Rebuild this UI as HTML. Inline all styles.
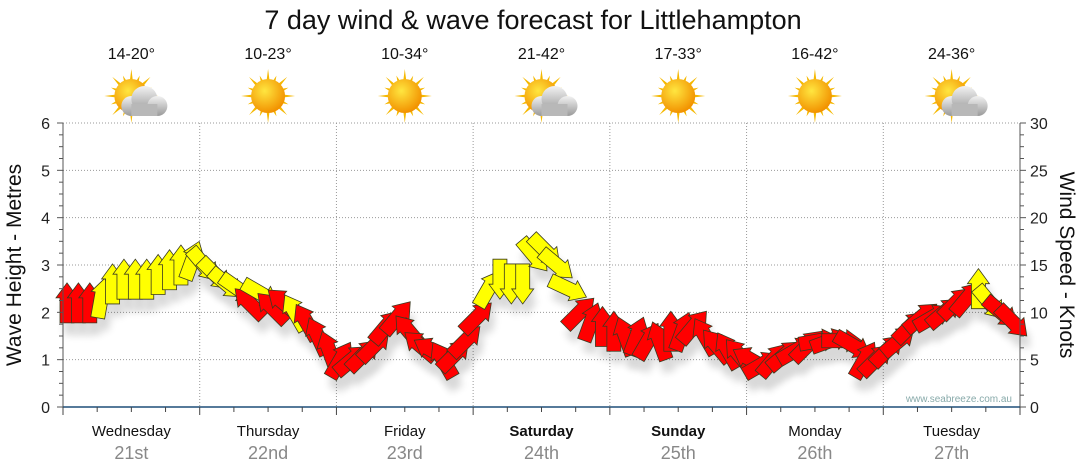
<!DOCTYPE html>
<html><head><meta charset="utf-8"><style>
body{margin:0;background:#fff;width:1080px;height:475px;overflow:hidden;font-family:"Liberation Sans",sans-serif}
svg{display:block}
</style></head><body>
<svg id="c" width="1080" height="475" xmlns="http://www.w3.org/2000/svg">
<defs>
<radialGradient id="sun" cx="40%" cy="35%" r="65%"><stop offset="0" stop-color="#ffe640"/><stop offset="1" stop-color="#f29200"/></radialGradient>
<linearGradient id="cloud" x1="0" y1="0" x2="0" y2="1"><stop offset="0" stop-color="#f2f2f2"/><stop offset="1" stop-color="#9a9a9a"/></linearGradient>
<filter id="sh" x="-50%" y="-50%" width="200%" height="200%"><feGaussianBlur stdDeviation="4"/></filter>
</defs>
<text x="533" y="29" text-anchor="middle" font-size="27" fill="#111">7 day wind &amp; wave forecast for Littlehampton</text>
<g id="grid"></g><g id="shadows" opacity="0.15"></g><g id="marks"></g><g id="axes"></g><g id="topg"></g>
<text x="1012" y="402" text-anchor="end" font-size="10" fill="#8aa">www.seabreeze.com.au</text>
<text transform="translate(21,265) rotate(-90)" text-anchor="middle" font-size="21" fill="#111">Wave Height - Metres</text>
<text transform="translate(1060,265) rotate(90)" text-anchor="middle" font-size="21" fill="#111">Wind Speed - Knots</text>
</svg>
<script>
const days=["Wednesday","Thursday","Friday","Saturday","Sunday","Monday","Tuesday"];
const dates=["21st","22nd","23rd","24th","25th","26th","27th"];
const bold=[false,false,false,true,true,false,false];
const temps=["14-20°","10-23°","10-34°","21-42°","17-33°","16-42°","24-36°"];
const cloudy=[true,false,false,true,false,false,true];
const leftTicks=[0,1,2,3,4,5,6];
const rightTicks=[0,5,10,15,20,25,30];
const heights=[2.2,2.2,2.2,2.3,2.6,2.7,2.7,2.7,2.8,2.9,3.0,3.1,
3.0,2.8,2.6,2.5,2.2,2.4,2.1,2.2,2.0,1.8,1.5,1.2,
1.0,1.0,1.1,1.3,1.7,1.9,1.6,1.3,1.2,1.0,1.1,1.4,
1.9,2.5,2.7,2.6,2.6,3.2,3.3,3.0,2.5,2.0,1.8,1.7,
1.6,1.5,1.5,1.4,1.4,1.6,1.6,1.7,1.5,1.3,1.2,1.1,
1.0,0.9,1.0,1.1,1.2,1.3,1.4,1.4,1.4,1.3,1.0,1.0,
1.2,1.4,1.7,1.9,1.9,2.0,2.2,2.3,2.5,2.2,2.0,1.8];
const directions=[0,0,0,10,0,0,0,0,0,0,0,20,
140,135,130,125,315,120,315,310,330,330,335,340,
30,50,45,45,40,40,320,310,300,330,45,45,
45,30,180,180,180,140,135,130,115,45,20,0,
0,340,20,30,340,0,20,40,330,320,330,320,
300,60,40,50,60,45,80,70,90,120,30,45,
45,50,45,50,60,50,45,40,0,140,130,135];
const colours=["R","R","R","Y","Y","Y","Y","Y","Y","Y","Y","Y",
"Y","Y","Y","Y","R","Y","R","R","Y","R","R","R",
"R","R","R","R","R","R","R","R","R","R","R","R",
"R","Y","Y","Y","Y","Y","Y","Y","Y","R","R","R",
"R","R","R","R","R","R","R","R","R","R","R","R",
"R","R","R","R","R","R","R","R","R","R","R","R",
"R","R","R","R","R","R","R","R","Y","Y","R","R"];
const NS="http://www.w3.org/2000/svg";
const X0=63,X1=1020,Y0=407,Y1=123;
const dayW=(X1-X0)/7;
const xs=i=>X0+i*dayW/12+4;
const ys=v=>Y0-(v/6)*(Y0-Y1);
function mk(p,tag,at){const e=document.createElementNS(NS,tag);for(const k in at)e.setAttribute(k,at[k]);p.appendChild(e);return e;}
const grid=document.getElementById('grid'),axes=document.getElementById('axes'),marks=document.getElementById('marks'),shadows=document.getElementById('shadows'),topG=document.getElementById('topg');
leftTicks.forEach(t=>{if(t>0){const g=mk(grid,'line',{x1:X0,x2:X1,y1:ys(t),y2:ys(t),stroke:'#999','stroke-dasharray':'1,2'});

}
const l=mk(axes,'text',{x:50,y:ys(t)+6,'text-anchor':'end','font-size':16,fill:'#222'});l.textContent=t;

});
rightTicks.forEach((t,i)=>{const l=mk(axes,'text',{x:1030,y:ys(i)+6,'font-size':16,fill:'#222'});l.textContent=t;

});
for(let v=0;v<=6.001;v+=0.25){const L=(Math.abs(v-Math.round(v))<0.01)?6:4;
mk(axes,'line',{x1:X0-L,x2:X0,y1:ys(v),y2:ys(v),stroke:'#555'});mk(axes,'line',{x1:X1,x2:X1+L,y1:ys(v),y2:ys(v),stroke:'#555'});}
mk(axes,'line',{x1:X0,x2:X0,y1:Y1,y2:Y0,stroke:'#555'});mk(axes,'line',{x1:X1,x2:X1,y1:Y1,y2:Y0,stroke:'#555'});
mk(axes,'line',{x1:X0,x2:X1,y1:Y0,y2:Y0,stroke:'#1f4e79','stroke-width':1.5});
for(let q=0;q<=28;q++){const x=X0+q*dayW/4;mk(axes,'line',{x1:x,x2:x,y1:Y0,y2:Y0+(q%4==0?8:5),stroke:'#444'});}
days.forEach((d,i)=>{const cx=X0+dayW*(i+0.5);
if(i>0){const g=mk(grid,'line',{x1:X0+dayW*i,x2:X0+dayW*i,y1:Y1,y2:Y0,stroke:'#999','stroke-dasharray':'1,2'});

}
const t=mk(axes,'text',{x:cx,y:436,'text-anchor':'middle','font-size':15,fill:'#111','font-weight':bold[i]?'bold':'normal'});t.textContent=d;


const dt=mk(axes,'text',{x:cx,y:459,'text-anchor':'middle','font-size':18,fill:'#888'});dt.textContent=dates[i];


const tp=mk(topG,'text',{x:cx,y:59,'text-anchor':'middle','font-size':16,fill:'#111'});tp.textContent=temps[i];


const ic=mk(topG,'g',{transform:`translate(${cx},96)`});


for(let r=0;r<16;r++){const a=r*Math.PI/8,len=r%2?22:27;mk(ic,'polygon',{points:`${Math.cos(a-0.12)*14},${Math.sin(a-0.12)*14} ${Math.cos(a)*len},${Math.sin(a)*len} ${Math.cos(a+0.12)*14},${Math.sin(a+0.12)*14}`,fill:'#f5b800'});}
mk(ic,'circle',{r:17,fill:'url(#sun)'});
if(cloudy[i]){const c=mk(ic,'g',{transform:'translate(10,6)'});
mk(c,'circle',{cx:-10,cy:4,r:10,fill:'url(#cloud)'});mk(c,'circle',{cx:3,cy:-3,r:13,fill:'url(#cloud)'});mk(c,'circle',{cx:16,cy:4,r:10,fill:'url(#cloud)'});mk(c,'rect',{x:-10,y:2,width:26,height:12,fill:'#b8b8b8'});}
});
const arrowPts="0,-20 11,-5 7,-5 7,20 -7,20 -7,-5 -11,-5";
heights.forEach((h,i)=>{const x=xs(i),y=ys(h);
mk(shadows,'polygon',{points:arrowPts,transform:`translate(${x+4},${y+12}) rotate(${directions[i]})`,fill:'#000',filter:'url(#sh)'});
const a=mk(marks,'polygon',{points:arrowPts,transform:`translate(${x},${y}) rotate(${directions[i]})`,fill:colours[i]=='Y'?'#ffff00':'#ff0000',stroke:'#3a3a20','stroke-width':0.8});

});
</script>
</body></html>
